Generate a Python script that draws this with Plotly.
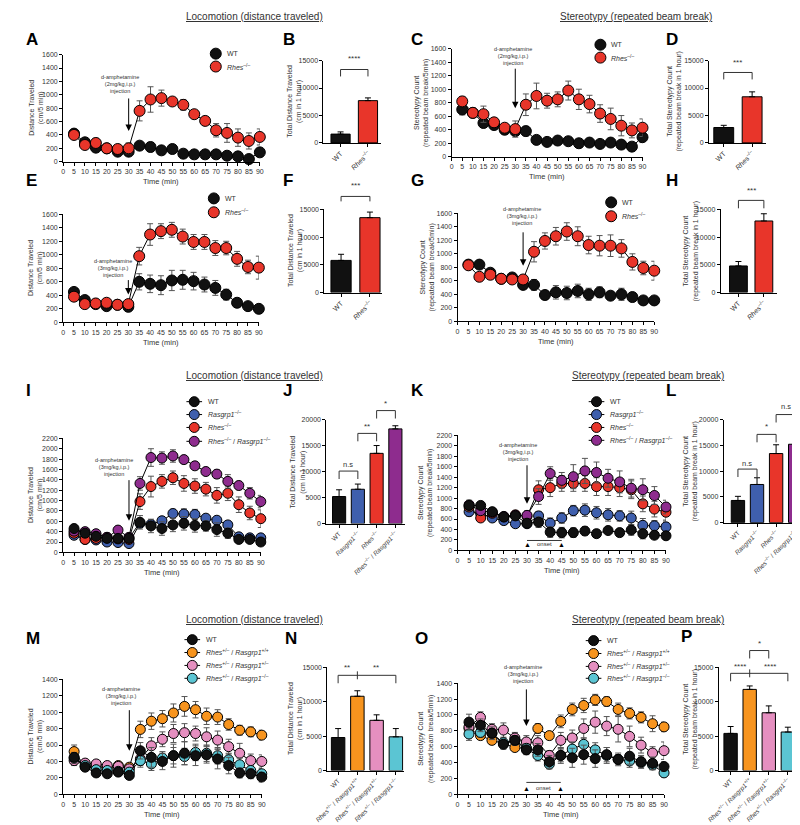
import plotly.graph_objects as go

W, H = 800, 825
FONT = "Liberation Sans, Arial, sans-serif"

BLACK = "#111111"
RED = "#e8352a"
BLUE = "#3f5fad"
PURPLE = "#8e2c8e"
ORANGE = "#f7941e"
PINK = "#e58fc0"
CYAN = "#5bc5d3"

t = [5, 10, 15, 20, 25, 30, 35, 40, 45, 50, 55, 60, 65, 70, 75, 80, 85, 90]

# A - locomotion, 2 mg/kg
a_wt = [420, 290, 210, 200, 150, 150, 240, 220, 170, 190, 120, 110, 110, 110, 90, 80, 40, 140]
a_wt_err = [40, 30, 30, 30, 30, 40, 50, 70, 40, 50, 30, 40, 30, 30, 30, 30, 30, 30]
a_rhes = [400, 250, 280, 200, 190, 200, 760, 930, 950, 900, 850, 710, 610, 470, 430, 360, 310, 370]
a_rhes_err = [40, 30, 70, 40, 40, 80, 150, 190, 120, 60, 80, 50, 60, 100, 140, 130, 120, 120]

# C - stereotypy, 2 mg/kg
c_wt = [700, 650, 500, 470, 400, 380, 380, 250, 220, 240, 230, 200, 210, 190, 210, 180, 150, 290]
c_wt_err = [80, 60, 60, 60, 60, 60, 70, 40, 50, 40, 30, 40, 40, 30, 50, 40, 30, 80]
c_rhes = [820, 650, 630, 510, 430, 410, 770, 900, 830, 850, 980, 850, 780, 640, 560, 460, 390, 430]
c_rhes_err = [70, 70, 120, 60, 60, 120, 160, 190, 110, 110, 140, 150, 130, 130, 160, 150, 110, 130]

# E - locomotion, 3 mg/kg
e_wt = [450, 330, 270, 240, 260, 230, 600, 570, 550, 620, 630, 610, 560, 510, 410, 290, 240, 200]
e_wt_err = [30, 30, 30, 30, 30, 30, 120, 130, 140, 150, 140, 130, 110, 110, 80, 60, 30, 30]
e_rhes = [380, 270, 280, 290, 260, 270, 980, 1300, 1350, 1370, 1270, 1190, 1190, 1100, 1100, 940, 820, 810]
e_rhes_err = [30, 30, 30, 30, 30, 30, 130, 160, 110, 110, 110, 110, 110, 110, 100, 110, 100, 170]

# G - stereotypy, 3 mg/kg
g_wt = [840, 840, 720, 630, 650, 540, 540, 390, 430, 420, 450, 400, 430, 380, 400, 360, 310, 310]
g_wt_err = [60, 30, 50, 50, 60, 40, 80, 60, 100, 100, 100, 90, 80, 60, 90, 60, 60, 40]
g_rhes = [830, 660, 690, 630, 620, 620, 1030, 1190, 1260, 1330, 1260, 1130, 1120, 1120, 1080, 880, 790, 750]
g_rhes_err = [60, 50, 40, 50, 60, 50, 150, 120, 130, 130, 140, 130, 150, 160, 130, 120, 100, 140]

# I - locomotion, 4 genotypes
i_wt = [460, 370, 310, 270, 270, 270, 580, 510, 460, 530, 560, 520, 510, 440, 370, 250, 250, 200]
i_wt_err = [40, 40, 40, 40, 40, 40, 130, 130, 130, 130, 130, 130, 100, 130, 100, 60, 60, 40]
i_ras = [330, 250, 240, 200, 190, 170, 560, 540, 610, 750, 740, 730, 660, 620, 530, 300, 280, 280]
i_ras_err = [40, 40, 40, 40, 40, 40, 80, 80, 80, 80, 100, 100, 60, 60, 60, 60, 60, 60]
i_rhes = [370, 250, 270, 290, 260, 250, 980, 1270, 1370, 1440, 1330, 1280, 1220, 1100, 1140, 920, 760, 650]
i_rhes_err = [40, 40, 40, 40, 40, 40, 150, 200, 130, 130, 150, 140, 130, 150, 140, 150, 130, 170]
i_dko = [410, 400, 360, 290, 430, 290, 1330, 1830, 1820, 1860, 1790, 1670, 1560, 1510, 1370, 1290, 1140, 980]
i_dko_err = [40, 40, 40, 40, 40, 40, 130, 170, 120, 120, 60, 70, 70, 80, 130, 80, 110, 120]

# K - stereotypy, 4 genotypes
k_wt = [860, 860, 740, 640, 660, 520, 540, 350, 340, 340, 370, 320, 380, 340, 390, 320, 290, 280]
k_wt_err = [100, 60, 60, 60, 60, 80, 100, 100, 100, 90, 80, 70, 50, 50, 100, 100, 50, 50]
k_ras = [740, 700, 620, 570, 510, 510, 660, 520, 620, 760, 770, 720, 680, 660, 620, 480, 470, 450]
k_ras_err = [80, 80, 60, 60, 60, 60, 80, 100, 100, 100, 120, 120, 120, 100, 130, 130, 100, 130]
k_rhes = [830, 620, 710, 640, 680, 650, 1160, 1200, 1280, 1280, 1280, 1220, 1220, 1200, 1160, 890, 790, 730]
k_rhes_err = [80, 60, 60, 60, 60, 100, 170, 170, 150, 150, 150, 170, 170, 170, 170, 150, 150, 170]
k_dko = [870, 760, 730, 650, 670, 670, 1030, 1470, 1340, 1410, 1520, 1490, 1380, 1310, 1190, 1160, 1050, 830]
k_dko_err = [80, 80, 60, 60, 60, 80, 150, 130, 150, 230, 240, 200, 170, 210, 170, 210, 170, 130]

# M - locomotion, heterozygous series
m_wt = [450, 330, 260, 250, 270, 230, 530, 450, 400, 470, 500, 470, 480, 430, 350, 260, 250, 210]
m_wt_err = [60, 30, 30, 30, 30, 30, 100, 120, 100, 140, 140, 120, 100, 120, 100, 60, 60, 60]
m_pp = [520, 340, 340, 320, 350, 330, 790, 890, 920, 990, 1070, 1030, 950, 940, 850, 780, 760, 720]
m_pp_err = [80, 40, 40, 40, 40, 40, 100, 100, 100, 110, 120, 100, 100, 90, 70, 60, 60, 60]
m_pm = [410, 380, 370, 350, 340, 310, 430, 590, 670, 740, 750, 740, 700, 660, 580, 500, 410, 400]
m_pm_err = [60, 40, 40, 40, 40, 40, 80, 100, 90, 110, 110, 90, 110, 110, 90, 120, 80, 80]
m_mm = [440, 350, 300, 290, 280, 270, 410, 370, 440, 470, 460, 510, 500, 470, 420, 360, 290, 250]
m_mm_err = [60, 40, 40, 40, 40, 40, 80, 80, 80, 100, 100, 100, 100, 100, 80, 80, 60, 60]

# O - stereotypy, heterozygous series
o_wt = [910, 870, 770, 630, 680, 560, 560, 410, 490, 460, 500, 450, 500, 440, 480, 410, 390, 350]
o_wt_err = [100, 80, 80, 60, 60, 60, 80, 80, 100, 120, 120, 110, 90, 80, 100, 80, 80, 60]
o_pp = [830, 740, 680, 640, 590, 580, 830, 740, 920, 1070, 1120, 1190, 1170, 1070, 1020, 970, 890, 850]
o_pp_err = [60, 50, 50, 50, 40, 50, 60, 50, 80, 80, 90, 70, 60, 80, 70, 70, 100, 60]
o_pm = [850, 970, 820, 810, 710, 660, 650, 490, 680, 710, 830, 910, 860, 820, 730, 620, 520, 550]
o_pm_err = [80, 70, 70, 90, 70, 80, 90, 60, 100, 100, 120, 140, 120, 160, 130, 100, 80, 110]
o_mm = [760, 780, 770, 650, 680, 580, 490, 380, 490, 570, 630, 560, 490, 440, 420, 400, 370, 270]
o_mm_err = [80, 60, 60, 60, 60, 60, 70, 60, 80, 90, 80, 90, 100, 60, 80, 70, 60, 50]

# bar panels: totals over 1 hour
b_means, b_errs = [1600, 7700], [400, 500]
d_means, d_errs = [2800, 8400], [400, 900]
f_means, f_errs = [5800, 13500], [1100, 1000]
h_means, h_errs = [4800, 12900], [800, 1300]
j_means, j_errs = [5200, 6600, 13500, 18200], [1300, 1000, 1500, 600]
l_means, l_errs = [4300, 7400, 13400, 15200], [800, 1300, 1700, 1900]
n_means, n_errs = [4800, 10800, 7300, 4900], [1300, 800, 800, 1200]
p_means, p_errs = [5400, 11800, 8400, 5600], [1000, 500, 1000, 700]

KO = "<sup>–/–</sup>"
lbl_rhes = "<i>Rhes</i>" + KO
lbl_ras = "<i>Rasgrp1</i>" + KO
lbl_dko = lbl_rhes + " / " + lbl_ras
lbl_pp = "<i>Rhes</i><sup>+/–</sup> / <i>Rasgrp1</i><sup>+/+</sup>"
lbl_pm = "<i>Rhes</i><sup>+/–</sup> / <i>Rasgrp1</i><sup>+/–</sup>"
lbl_mm = "<i>Rhes</i><sup>+/–</sup> / <i>Rasgrp1</i><sup>–/–</sup>"

two_labels = ["WT", lbl_rhes]
four_labels = ["WT", lbl_ras, lbl_rhes, lbl_dko]
het_labels = ["WT", lbl_pp, lbl_pm, lbl_mm]


def px(x):
    return x / W


def py(y):
    return 1 - y / H


fig = go.Figure()
shapes = []
annos = []
n_axes = [0]


def text(x, y, s, size=7, angle=0, xanchor="center", color="#333"):
    annos.append(dict(x=px(x), y=py(y), xref="paper", yref="paper", text=s,
                      showarrow=False, xanchor=xanchor, yanchor="middle", textangle=angle,
                      font=dict(size=size, family=FONT, color=color)))


def add_axes(x0, x1, y0, y1, xr, yr, xextra, yextra):
    n_axes[0] += 1
    s = "" if n_axes[0] == 1 else str(n_axes[0])
    common = dict(showline=True, linecolor="black", linewidth=1, ticks="outside",
                  ticklen=3, tickwidth=1, tickcolor="black", showgrid=False,
                  zeroline=False, tickfont=dict(size=7, color="#333", family=FONT))
    fig.update_layout({
        "xaxis" + s: {**common, "domain": [px(x0), px(x1)], "anchor": "y" + s, "range": xr, **xextra},
        "yaxis" + s: {**common, "domain": [py(y1), py(y0)], "anchor": "x" + s, "range": yr,
                      "tickformat": "d", **yextra},
    })
    return "x" + s, "y" + s


def timecourse(box, ymax, series, msize, ylabel, ylab_x, dose, txt_x, arrow_px):
    x0, x1, y0, y1 = box
    xa, ya = add_axes(x0, x1, y0, y1, [0, 90], [0, ymax],
                      dict(tickvals=list(range(0, 95, 5))),
                      dict(tick0=0, dtick=200))
    for y, e, c in series:
        fig.add_trace(go.Scatter(
            x=t, y=y, xaxis=xa, yaxis=ya, mode="lines+markers",
            line=dict(color="black", width=1),
            marker=dict(size=msize, color=c, line=dict(color="black", width=1)),
            error_y=dict(type="data", array=e, color="#555", thickness=1, width=3),
            cliponaxis=False, showlegend=False))
    text(ylab_x, (y0 + y1) / 2, ylabel, size=7, angle=-90)
    text((x0 + x1) / 2, y1 + 20, "Time (min)", size=7.5)
    # injection arrow
    tail, tip, tcy = arrow_px
    text(txt_x, tcy, "d-amphetamine<br>(%smg/kg,i.p.)<br>injection" % dose, size=5.5)
    annos.append(dict(x=30, xref=xa, y=py(tip), yref="paper", ax=0, ay=tail - tip,
                      text="", showarrow=True, arrowhead=2, arrowsize=1.3,
                      arrowwidth=1, arrowcolor="black"))
    return xa, ya


def onset(box, line_y, mark_y):
    x0, x1 = box[0], box[1]
    tx = lambda v: x0 + v / 90 * (x1 - x0)
    shapes.append(dict(type="line", xref="paper", yref="paper", x0=px(tx(30)), x1=px(tx(45)),
                       y0=py(line_y), y1=py(line_y), line=dict(color="black", width=0.8)))
    for v in (30, 45):
        text(tx(v), mark_y, "▲", size=7, color="black")
    text(tx(37.5), mark_y, "onset", size=6)


def legend(x, ys, colors, labels, with_line=False, msize=11):
    for y, c, lab in zip(ys, colors, labels):
        if with_line:
            shapes.append(dict(type="line", xref="paper", yref="paper", x0=px(x - 8), x1=px(x + 8),
                               y0=py(y), y1=py(y), line=dict(color="black", width=1)))
        shapes.append(dict(type="circle", xref="paper", yref="paper", xsizemode="pixel",
                           ysizemode="pixel", xanchor=px(x), yanchor=py(y),
                           x0=-msize / 2, x1=msize / 2, y0=-msize / 2, y1=msize / 2,
                           fillcolor=c, line=dict(color="black", width=1)))
        text(x + (12 if with_line else 9), y, lab, size=7, xanchor="left")


def barpanel(box, centers, ymax, means, errs, colors, labels, ylabel, ylab_x, brackets, lsize=7):
    x0, x1, y0, y1 = box
    c0 = centers[0]
    s = (centers[-1] - c0) / (len(centers) - 1)
    xr = [(x0 - c0) / s, (x1 - c0) / s]
    xa, ya = add_axes(x0, x1, y0, y1, xr, [0, ymax],
                      dict(tickvals=list(range(len(means))), ticktext=labels, tickangle=-45,
                           tickfont=dict(size=lsize, color="#333", family=FONT)),
                      dict(tick0=0, dtick=5000))
    fig.add_trace(go.Bar(
        x=list(range(len(means))), y=means, xaxis=xa, yaxis=ya, width=0.7,
        marker=dict(color=colors, line=dict(color="black", width=1)),
        error_y=dict(type="data", array=errs, arrayminus=[0] * len(errs), symmetric=False,
                     color="black", thickness=1, width=3),
        showlegend=False))
    text(ylab_x, (y0 + y1) / 2, ylabel, size=7, angle=-90)
    cx = lambda i: c0 + i * s
    for b in brackets:
        i0, i1, yl, yg, lab, ty = b[:6]
        shapes.append(dict(type="path", xref="paper", yref="paper",
                           path="M %f,%f L %f,%f L %f,%f L %f,%f" % (
                               px(cx(i0)), py(yg), px(cx(i0)), py(yl),
                               px(cx(i1)), py(yl), px(cx(i1)), py(yg)),
                           line=dict(color="#333", width=1)))
        if lab:
            text(cx((i0 + i1) / 2), ty, lab, size=8 if "n.s" not in lab else 7.5)
        if len(b) > 6:
            mi = b[6]
            shapes.append(dict(type="line", xref="paper", yref="paper",
                               x0=px(cx(mi)), x1=px(cx(mi)), y0=py(yl - 4), y1=py(yl + 4),
                               line=dict(color="#333", width=1)))
    return xa, ya


DIST = "Distance Traveled<br>(cm/5 min)"
STER = "Stereotypy Count<br>(repeated beam break/5min)"
TDIST = "Total Distance Traveled<br>(cm in 1 hour)"
TSTER = "Total Stereotypy Count<br>(repeated beam break in 1 hour)"

# ---- row 1 ----
timecourse((43, 244, 43, 151), 1600,
           [(a_wt, a_wt_err, BLACK), (a_rhes, a_rhes_err, RED)], 11,
           DIST, 15, "2", 101, (86, 120, 73))
legend(199, [42, 55], [BLACK, RED], ["WT", lbl_rhes])
barpanel((309, 368, 49, 132), [326.5, 354.5], 15000, b_means, b_errs, [BLACK, RED],
         two_labels, TDIST, 280, [(0, 1, 58, 65, "****", 47)])
timecourse((440, 635, 37, 146), 1600,
           [(c_wt, c_wt_err, BLACK), (c_rhes, c_rhes_err, RED)], 11,
           STER, 409, "2", 503, (56, 97, 44))
legend(592, [33, 46], [BLACK, RED], ["WT", lbl_rhes])
barpanel((703, 761, 49, 132), [718, 747], 15000, d_means, d_errs, [BLACK, RED],
         two_labels, TSTER, 668, [(0, 1, 61, 68, "***", 51)])

# ---- row 2 ----
timecourse((43, 243, 204, 313), 1600,
           [(e_wt, e_wt_err, BLACK), (e_rhes, e_rhes_err, RED)], 11,
           DIST, 15, "3", 94, (269, 285, 258))
legend(197, [188, 202], [BLACK, RED], ["WT", lbl_rhes])
barpanel((310, 369, 199, 283), [327, 356.5], 15000, f_means, f_errs, [BLACK, RED],
         two_labels, TDIST, 281, [(0, 1, 186, 191, "***", 175)])
timecourse((446, 647, 203, 312), 1600,
           [(g_wt, g_wt_err, BLACK), (g_rhes, g_rhes_err, RED)], 11,
           STER, 415, "3", 512, (221, 256, 206))
legend(603, [192, 206], [BLACK, RED], ["WT", lbl_rhes])
barpanel((715, 772, 199, 283), [733, 759], 15000, h_means, h_errs, [BLACK, RED],
         two_labels, TSTER, 685, [(0, 1, 190, 198, "***", 180)])

# ---- row 3 ----
timecourse((43, 245, 430, 545), 2200,
           [(i_ras, i_ras_err, BLUE), (i_rhes, i_rhes_err, RED),
            (i_dko, i_dko_err, PURPLE), (i_wt, i_wt_err, BLACK)], 10,
           DIST, 15, "3", 95, (471, 513, 459))
legend(177, [393, 406, 419, 433], [BLACK, BLUE, RED, PURPLE],
       ["WT", lbl_ras, lbl_rhes, lbl_dko], with_line=True, msize=10)
barpanel((312, 392, 411, 516), [325, 344, 363.5, 382.5], 20000, j_means, j_errs,
         [BLACK, BLUE, RED, PURPLE], four_labels, TDIST, 283,
         [(0, 1, 463, 471, "n.s", 456), (1, 2, 425, 433, "**", 418), (2, 3, 402, 410, "*", 395)],
         lsize=6.5)
timecourse((446, 659, 427, 543), 2200,
           [(k_ras, k_ras_err, BLUE), (k_rhes, k_rhes_err, RED),
            (k_dko, k_dko_err, PURPLE), (k_wt, k_wt_err, BLACK)], 10,
           STER, 414, "3", 508, (456, 496, 444))
onset((446, 659, 427, 543), 533, 537)
legend(588, [393, 406, 419, 432], [BLACK, BLUE, RED, PURPLE],
       ["WT", lbl_ras, lbl_rhes, lbl_dko], with_line=True, msize=10)
barpanel((718, 799, 411, 515), [732.5, 752.5, 771.5, 791], 20000, l_means, l_errs,
         [BLACK, BLUE, RED, PURPLE], four_labels, TSTER, 684,
         [(0, 1, 461, 469, "n.s", 455), (1, 2, 426, 434, "*", 418), (2, 3, 406, 414, "n.s", 398)],
         lsize=6.5)

# ---- row 4 ----
timecourse((43, 246, 673, 789), 1400,
           [(m_pp, m_pp_err, ORANGE), (m_pm, m_pm_err, PINK),
            (m_mm, m_mm_err, CYAN), (m_wt, m_wt_err, BLACK)], 10,
           DIST, 15, "3", 102, (703, 745, 690))
legend(175, [633, 646, 659, 672], [BLACK, ORANGE, PINK, CYAN],
       ["WT", lbl_pp, lbl_pm, lbl_mm], with_line=True, msize=10)
barpanel((313, 391, 661, 765), [324, 344.5, 363.5, 383], 15000, n_means, n_errs,
         [BLACK, ORANGE, PINK, CYAN], het_labels, TDIST, 281,
         [(0, 3, 669, 677, "", 661, 1)], lsize=6.5)
text(333, 661, "**", size=8)
text(363, 661, "**", size=8)
timecourse((446, 657, 677, 789), 1400,
           [(o_pp, o_pp_err, ORANGE), (o_pm, o_pm_err, PINK),
            (o_mm, o_mm_err, CYAN), (o_wt, o_wt_err, BLACK)], 10,
           STER, 414, "3", 513, (682, 720, 668))
onset((446, 657, 677, 789), 777, 783)
legend(585, [634, 647, 660, 672], [BLACK, ORANGE, PINK, CYAN],
       ["WT", lbl_pp, lbl_pm, lbl_mm], with_line=True, msize=10)
barpanel((713, 792, 661, 765), [725, 745, 764, 783.5], 15000, p_means, p_errs,
         [BLACK, ORANGE, PINK, CYAN], het_labels, TSTER, 684,
         [(0, 3, 667, 675, "", 660, 1), (1, 2, 644, 652, "*", 637)], lsize=6.5)
text(735, 660, "****", size=8)
text(765, 660, "****", size=8)

# ---- headings and panel letters ----
for yy in (5, 367, 613):
    text(239, yy, "<u>Locomotion (distance traveled)</u>", size=10)
text(628, 5, "<u>Stereotypy (repeated beam break)</u>", size=10)
text(641, 367, "<u>Stereotypy (repeated beam break)</u>", size=10)
text(641, 613, "<u>Stereotypy (repeated beam break)</u>", size=10)

letters = [("A", 3, 28), ("B", 266, 28), ("C", 396, 28), ("D", 657, 28),
           ("E", 3, 170), ("F", 266, 170), ("G", 396, 170), ("H", 657, 170),
           ("I", 3, 382), ("J", 266, 382), ("K", 396, 382), ("L", 657, 382),
           ("M", 3, 632), ("N", 268, 632), ("O", 401, 632), ("P", 672, 630)]
for s, x, y in letters:
    text(x, y, "<b>%s</b>" % s, size=17, xanchor="left", color="black")

fig.update_layout(
    width=W, height=H, margin=dict(l=0, r=0, t=0, b=0),
    paper_bgcolor="white", plot_bgcolor="white",
    font=dict(family=FONT, color="#333"),
    shapes=shapes, annotations=annos, showlegend=False,
)

fig.write_html("out.html")
